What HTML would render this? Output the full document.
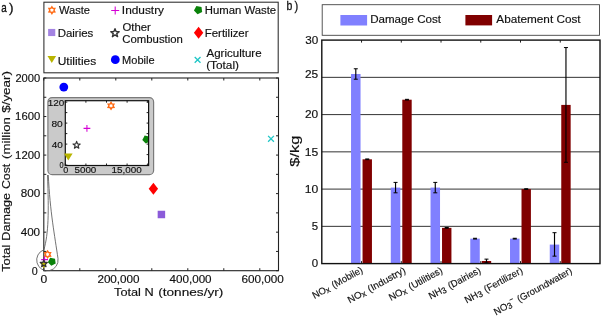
<!DOCTYPE html>
<html><head><meta charset="utf-8"><style>
html,body{margin:0;padding:0;background:#fff;width:602px;height:317px;overflow:hidden}
svg{display:block;will-change:transform}
text{font-family:"Liberation Sans", sans-serif;stroke:#111;stroke-width:0.15px}
</style></head><body>
<svg width="602" height="317" viewBox="0 0 602 317">
<rect width="602" height="317" fill="#fff"/>
<text x="1.25" y="12.00" font-size="13" fill="#111" style="stroke-width:0.35px" textLength="5.47" lengthAdjust="spacingAndGlyphs">a</text>
<text x="9.12" y="12.00" font-size="12.5" fill="#111" style="stroke-width:0.3px" textLength="4.51" lengthAdjust="spacingAndGlyphs">)</text>
<rect x="43.90" y="2.20" width="234.30" height="70.60" fill="#fff" stroke="#2a2a2a" stroke-width="1.05"/>
<path d="M51.90,6.80 L52.92,8.42 L54.84,8.50 L53.95,10.20 L54.84,11.90 L52.92,11.98 L51.90,13.60 L50.88,11.98 L48.96,11.90 L49.85,10.20 L48.96,8.50 L50.88,8.42 Z" fill="none" stroke="#ff6a13" stroke-width="1.4" stroke-linejoin="miter"/>
<rect x="48.13" y="28.93" width="7.14" height="7.14" fill="#a383e2" stroke="none" stroke-width="1"/>
<path d="M47.50,56.10 L56.10,56.10 L51.80,63.10 Z" fill="#b8b400" stroke="none" stroke-width="1"/>
<path d="M111.20,10.50 H119.20 M115.20,6.50 V14.50" fill="none" stroke="#d400d4" stroke-width="1.05"/>
<path d="M115.00,28.70 L116.09,31.60 L119.18,31.74 L116.76,33.67 L117.59,36.66 L115.00,34.95 L112.41,36.66 L113.24,33.67 L110.82,31.74 L113.91,31.60 Z" fill="none" stroke="#333333" stroke-width="1.4" stroke-linejoin="round"/>
<circle cx="115.30" cy="59.70" r="4.40" fill="#0000ff"/>
<path d="M197.54,14.33 L193.94,10.61 L196.37,6.05 L201.47,6.94 L202.18,12.07 Z" fill="#0a820a" stroke="none" stroke-width="1"/>
<path d="M198.60,26.70 L203.30,32.70 L198.60,38.70 L193.90,32.70 Z" fill="#ff0000" stroke="none" stroke-width="1"/>
<path d="M194.70,57.00 L200.50,62.80 M194.70,62.80 L200.50,57.00" fill="none" stroke="#1fc6c6" stroke-width="1.3"/>
<text x="59.00" y="14.00" font-size="10" fill="#111" textLength="31.04" lengthAdjust="spacingAndGlyphs">Waste</text>
<text x="57.70" y="37.30" font-size="10" fill="#111" textLength="35.65" lengthAdjust="spacingAndGlyphs">Dairies</text>
<text x="57.70" y="64.50" font-size="10" fill="#111" textLength="38.55" lengthAdjust="spacingAndGlyphs">Utilities</text>
<text x="121.85" y="13.70" font-size="10" fill="#111" textLength="42.20" lengthAdjust="spacingAndGlyphs">Industry</text>
<text x="122.51" y="31.00" font-size="10" fill="#111" textLength="28.39" lengthAdjust="spacingAndGlyphs">Other</text>
<text x="122.35" y="43.10" font-size="10" fill="#111" textLength="60.55" lengthAdjust="spacingAndGlyphs">Combustion</text>
<text x="122.10" y="64.00" font-size="10" fill="#111" textLength="32.50" lengthAdjust="spacingAndGlyphs">Mobile</text>
<text x="204.75" y="14.00" font-size="10" fill="#111" textLength="71.40" lengthAdjust="spacingAndGlyphs">Human Waste</text>
<text x="204.76" y="37.40" font-size="10" fill="#111" textLength="43.79" lengthAdjust="spacingAndGlyphs">Fertilizer</text>
<text x="206.55" y="57.00" font-size="10" fill="#111" textLength="55.00" lengthAdjust="spacingAndGlyphs">Agriculture</text>
<text x="206.15" y="69.10" font-size="10" fill="#111" textLength="32.86" lengthAdjust="spacingAndGlyphs">(Total)</text>
<line x1="43.80" y1="270.70" x2="46.30" y2="270.70" stroke="#222" stroke-width="1"/>
<line x1="278.50" y1="270.70" x2="276.00" y2="270.70" stroke="#222" stroke-width="1"/>
<line x1="43.80" y1="251.43" x2="46.30" y2="251.43" stroke="#222" stroke-width="1"/>
<line x1="278.50" y1="251.43" x2="276.00" y2="251.43" stroke="#222" stroke-width="1"/>
<line x1="43.80" y1="232.16" x2="46.30" y2="232.16" stroke="#222" stroke-width="1"/>
<line x1="278.50" y1="232.16" x2="276.00" y2="232.16" stroke="#222" stroke-width="1"/>
<line x1="43.80" y1="212.89" x2="46.30" y2="212.89" stroke="#222" stroke-width="1"/>
<line x1="278.50" y1="212.89" x2="276.00" y2="212.89" stroke="#222" stroke-width="1"/>
<line x1="43.80" y1="193.62" x2="46.30" y2="193.62" stroke="#222" stroke-width="1"/>
<line x1="278.50" y1="193.62" x2="276.00" y2="193.62" stroke="#222" stroke-width="1"/>
<line x1="43.80" y1="174.35" x2="46.30" y2="174.35" stroke="#222" stroke-width="1"/>
<line x1="278.50" y1="174.35" x2="276.00" y2="174.35" stroke="#222" stroke-width="1"/>
<line x1="43.80" y1="155.08" x2="46.30" y2="155.08" stroke="#222" stroke-width="1"/>
<line x1="278.50" y1="155.08" x2="276.00" y2="155.08" stroke="#222" stroke-width="1"/>
<line x1="43.80" y1="135.81" x2="46.30" y2="135.81" stroke="#222" stroke-width="1"/>
<line x1="278.50" y1="135.81" x2="276.00" y2="135.81" stroke="#222" stroke-width="1"/>
<line x1="43.80" y1="116.54" x2="46.30" y2="116.54" stroke="#222" stroke-width="1"/>
<line x1="278.50" y1="116.54" x2="276.00" y2="116.54" stroke="#222" stroke-width="1"/>
<line x1="43.80" y1="97.27" x2="46.30" y2="97.27" stroke="#222" stroke-width="1"/>
<line x1="278.50" y1="97.27" x2="276.00" y2="97.27" stroke="#222" stroke-width="1"/>
<line x1="43.80" y1="78.00" x2="46.30" y2="78.00" stroke="#222" stroke-width="1"/>
<line x1="278.50" y1="78.00" x2="276.00" y2="78.00" stroke="#222" stroke-width="1"/>
<line x1="43.80" y1="270.70" x2="43.80" y2="268.20" stroke="#222" stroke-width="1"/>
<line x1="43.80" y1="78.00" x2="43.80" y2="80.50" stroke="#222" stroke-width="1"/>
<line x1="79.80" y1="270.70" x2="79.80" y2="268.20" stroke="#222" stroke-width="1"/>
<line x1="79.80" y1="78.00" x2="79.80" y2="80.50" stroke="#222" stroke-width="1"/>
<line x1="115.80" y1="270.70" x2="115.80" y2="268.20" stroke="#222" stroke-width="1"/>
<line x1="115.80" y1="78.00" x2="115.80" y2="80.50" stroke="#222" stroke-width="1"/>
<line x1="151.80" y1="270.70" x2="151.80" y2="268.20" stroke="#222" stroke-width="1"/>
<line x1="151.80" y1="78.00" x2="151.80" y2="80.50" stroke="#222" stroke-width="1"/>
<line x1="187.80" y1="270.70" x2="187.80" y2="268.20" stroke="#222" stroke-width="1"/>
<line x1="187.80" y1="78.00" x2="187.80" y2="80.50" stroke="#222" stroke-width="1"/>
<line x1="223.80" y1="270.70" x2="223.80" y2="268.20" stroke="#222" stroke-width="1"/>
<line x1="223.80" y1="78.00" x2="223.80" y2="80.50" stroke="#222" stroke-width="1"/>
<line x1="259.80" y1="270.70" x2="259.80" y2="268.20" stroke="#222" stroke-width="1"/>
<line x1="259.80" y1="78.00" x2="259.80" y2="80.50" stroke="#222" stroke-width="1"/>
<rect x="43.80" y="78.00" width="234.70" height="192.70" fill="none" stroke="#222" stroke-width="1.1"/>
<text x="15.40" y="81.60" font-size="10" fill="#111" textLength="24.70" lengthAdjust="spacingAndGlyphs">2000</text>
<text x="15.10" y="120.14" font-size="10" fill="#111" textLength="25.15" lengthAdjust="spacingAndGlyphs">1600</text>
<text x="15.10" y="158.68" font-size="10" fill="#111" textLength="25.15" lengthAdjust="spacingAndGlyphs">1200</text>
<text x="20.81" y="197.22" font-size="10" fill="#111" textLength="19.44" lengthAdjust="spacingAndGlyphs">800</text>
<text x="20.66" y="235.76" font-size="10" fill="#111" textLength="19.44" lengthAdjust="spacingAndGlyphs">400</text>
<text x="31.88" y="274.50" font-size="10" fill="#111" textLength="5.96" lengthAdjust="spacingAndGlyphs">0</text>
<text x="40.42" y="283.20" font-size="10" fill="#111" textLength="6.72" lengthAdjust="spacingAndGlyphs">0</text>
<text x="97.40" y="283.00" font-size="10" fill="#111" textLength="42.20" lengthAdjust="spacingAndGlyphs">200,000</text>
<text x="169.50" y="283.00" font-size="10" fill="#111" textLength="42.10" lengthAdjust="spacingAndGlyphs">400,000</text>
<text x="241.40" y="283.00" font-size="10" fill="#111" textLength="42.39" lengthAdjust="spacingAndGlyphs">600,000</text>
<text x="114.05" y="295.80" font-size="11.8" fill="#111" textLength="39.65" lengthAdjust="spacingAndGlyphs">Total N</text>
<text x="158.20" y="295.80" font-size="11.8" fill="#111" textLength="65.16" lengthAdjust="spacingAndGlyphs">(tonnes/yr)</text>
<text x="0" y="0" font-size="11" fill="#111" textLength="27.15" lengthAdjust="spacingAndGlyphs" transform="translate(9.80,271.85) rotate(-90)">Total</text>
<text x="0" y="0" font-size="11" fill="#111" textLength="47.90" lengthAdjust="spacingAndGlyphs" transform="translate(9.80,240.75) rotate(-90)">Damage</text>
<text x="0" y="0" font-size="11" fill="#111" textLength="25.29" lengthAdjust="spacingAndGlyphs" transform="translate(9.80,189.09) rotate(-90)">Cost</text>
<text x="0" y="0" font-size="11" fill="#111" textLength="41.76" lengthAdjust="spacingAndGlyphs" transform="translate(9.80,158.90) rotate(-90)">(million</text>
<text x="0" y="0" font-size="11" fill="#111" textLength="41.75" lengthAdjust="spacingAndGlyphs" transform="translate(9.80,112.80) rotate(-90)">$/year)</text>
<circle cx="63.80" cy="87.10" r="4.40" fill="#0000ff"/>
<path d="M153.40,182.70 L158.10,188.70 L153.40,194.70 L148.70,188.70 Z" fill="#ff0000" stroke="none" stroke-width="1"/>
<rect x="157.66" y="210.75" width="7.49" height="7.49" fill="#8b5bd9" stroke="none" stroke-width="1"/>
<path d="M268.10,135.90 L273.90,141.70 M268.10,141.70 L273.90,135.90" fill="none" stroke="#1fc6c6" stroke-width="1.3"/>
<path d="M47.5,175 C48.9,213 48.6,233 43.9,249.8 A10.7,10.8 0 1 0 58.0,258.6 C54.8,236 50.0,212 48.3,175" fill="none" stroke="#5a5a5a" stroke-width="0.85"/>
<path d="M40.14,262.62 L47.45,262.62 L43.80,268.58 Z" fill="#b8b400" stroke="none" stroke-width="1"/>
<path d="M47.60,251.00 L48.62,252.62 L50.54,252.70 L49.65,254.40 L50.54,256.10 L48.62,256.18 L47.60,257.80 L46.58,256.18 L44.66,256.10 L45.55,254.40 L44.66,252.70 L46.58,252.62 Z" fill="none" stroke="#ff6a13" stroke-width="1.4" stroke-linejoin="miter"/>
<path d="M41.20,259.60 H48.00 M44.60,256.20 V263.00" fill="none" stroke="#d400d4" stroke-width="1.05"/>
<path d="M51.27,265.72 L47.86,262.18 L50.17,257.84 L55.01,258.70 L55.69,263.56 Z" fill="#0a820a" stroke="none" stroke-width="1"/>
<path d="M43.80,259.86 L44.72,262.33 L47.36,262.44 L45.30,264.09 L46.00,266.63 L43.80,265.17 L41.60,266.63 L42.30,264.09 L40.24,262.44 L42.88,262.33 Z" fill="none" stroke="#333333" stroke-width="1.19" stroke-linejoin="round"/>
<rect x="47.90" y="97.70" width="105.70" height="76.90" fill="#cacaca" stroke="#7a7a7a" stroke-width="1.2" rx="4.2"/>
<rect x="65.30" y="100.70" width="83.30" height="64.80" fill="#fff" stroke="none" stroke-width="1"/>
<clipPath id="ic"><rect x="65.2" y="100.7" width="83.4" height="64.8"/></clipPath>
<path d="M111.03,102.37 L112.06,104.00 L113.98,104.07 L113.08,105.77 L113.98,107.47 L112.06,107.55 L111.03,109.17 L110.01,107.55 L108.09,107.47 L108.98,105.77 L108.09,104.07 L110.01,104.00 Z" fill="none" stroke="#ff6a13" stroke-width="1.4" clip-path="url(#ic)" stroke-linejoin="miter"/>
<path d="M83.53,128.35 H90.33 M86.93,124.95 V131.75" fill="none" stroke="#d400d4" stroke-width="1.05" clip-path="url(#ic)"/>
<path d="M76.63,141.41 L77.55,143.88 L80.19,143.99 L78.13,145.64 L78.83,148.18 L76.63,146.72 L74.43,148.18 L75.13,145.64 L73.07,143.99 L75.71,143.88 Z" fill="none" stroke="#333333" stroke-width="1.19" clip-path="url(#ic)" stroke-linejoin="round"/>
<path d="M145.74,143.49 L142.32,139.96 L144.63,135.62 L149.47,136.47 L150.15,141.34 Z" fill="#0a820a" stroke="none" stroke-width="1" clip-path="url(#ic)"/>
<line x1="65.30" y1="165.10" x2="67.30" y2="165.10" stroke="#222" stroke-width="1"/>
<line x1="148.60" y1="165.10" x2="146.60" y2="165.10" stroke="#222" stroke-width="1"/>
<line x1="65.30" y1="154.60" x2="67.30" y2="154.60" stroke="#222" stroke-width="1"/>
<line x1="148.60" y1="154.60" x2="146.60" y2="154.60" stroke="#222" stroke-width="1"/>
<line x1="65.30" y1="144.10" x2="67.30" y2="144.10" stroke="#222" stroke-width="1"/>
<line x1="148.60" y1="144.10" x2="146.60" y2="144.10" stroke="#222" stroke-width="1"/>
<line x1="65.30" y1="133.60" x2="67.30" y2="133.60" stroke="#222" stroke-width="1"/>
<line x1="148.60" y1="133.60" x2="146.60" y2="133.60" stroke="#222" stroke-width="1"/>
<line x1="65.30" y1="123.10" x2="67.30" y2="123.10" stroke="#222" stroke-width="1"/>
<line x1="148.60" y1="123.10" x2="146.60" y2="123.10" stroke="#222" stroke-width="1"/>
<line x1="65.30" y1="112.60" x2="67.30" y2="112.60" stroke="#222" stroke-width="1"/>
<line x1="148.60" y1="112.60" x2="146.60" y2="112.60" stroke="#222" stroke-width="1"/>
<line x1="65.30" y1="102.10" x2="67.30" y2="102.10" stroke="#222" stroke-width="1"/>
<line x1="148.60" y1="102.10" x2="146.60" y2="102.10" stroke="#222" stroke-width="1"/>
<line x1="65.30" y1="165.50" x2="65.30" y2="163.50" stroke="#222" stroke-width="1"/>
<line x1="65.30" y1="100.70" x2="65.30" y2="102.70" stroke="#222" stroke-width="1"/>
<line x1="85.90" y1="165.50" x2="85.90" y2="163.50" stroke="#222" stroke-width="1"/>
<line x1="85.90" y1="100.70" x2="85.90" y2="102.70" stroke="#222" stroke-width="1"/>
<line x1="106.50" y1="165.50" x2="106.50" y2="163.50" stroke="#222" stroke-width="1"/>
<line x1="106.50" y1="100.70" x2="106.50" y2="102.70" stroke="#222" stroke-width="1"/>
<line x1="127.10" y1="165.50" x2="127.10" y2="163.50" stroke="#222" stroke-width="1"/>
<line x1="127.10" y1="100.70" x2="127.10" y2="102.70" stroke="#222" stroke-width="1"/>
<line x1="147.70" y1="165.50" x2="147.70" y2="163.50" stroke="#222" stroke-width="1"/>
<line x1="147.70" y1="100.70" x2="147.70" y2="102.70" stroke="#222" stroke-width="1"/>
<rect x="65.30" y="100.70" width="83.30" height="64.80" fill="none" stroke="#111" stroke-width="1.2"/>
<path d="M64.00,153.50 L72.60,153.50 L68.30,160.50 Z" fill="#b8b400" stroke="none" stroke-width="1"/>
<text x="47.70" y="106.30" font-size="9.5" fill="#111" textLength="16.55" lengthAdjust="spacingAndGlyphs">120</text>
<text x="51.46" y="127.00" font-size="9.5" fill="#111" textLength="11.33" lengthAdjust="spacingAndGlyphs">80</text>
<text x="51.71" y="148.20" font-size="9.5" fill="#111" textLength="11.08" lengthAdjust="spacingAndGlyphs">40</text>
<text x="59.61" y="168.30" font-size="9.5" fill="#111" textLength="4.11" lengthAdjust="spacingAndGlyphs">0</text>
<text x="63.28" y="172.70" font-size="9.5" fill="#111" textLength="5.05" lengthAdjust="spacingAndGlyphs">0</text>
<text x="74.46" y="172.90" font-size="9.5" fill="#111" textLength="21.89" lengthAdjust="spacingAndGlyphs">5000</text>
<text x="111.56" y="172.90" font-size="9.5" fill="#111" textLength="30.29" lengthAdjust="spacingAndGlyphs">15,000</text>
<text x="286.47" y="10.40" font-size="12.5" fill="#111" style="stroke-width:0.3px" textLength="5.81" lengthAdjust="spacingAndGlyphs">b</text>
<text x="294.60" y="10.40" font-size="12.5" fill="#111" style="stroke-width:0.3px" textLength="3.71" lengthAdjust="spacingAndGlyphs">)</text>
<rect x="322.20" y="4.70" width="277.30" height="30.60" fill="#fff" stroke="#444" stroke-width="0.9"/>
<rect x="340.40" y="15.00" width="26.70" height="10.50" fill="#8080ff" stroke="none" stroke-width="1"/>
<rect x="465.40" y="15.00" width="26.70" height="10.40" fill="#800000" stroke="none" stroke-width="1"/>
<text x="370.20" y="23.00" font-size="10" fill="#111" textLength="70.75" lengthAdjust="spacingAndGlyphs">Damage Cost</text>
<text x="496.35" y="23.00" font-size="10" fill="#111" textLength="84.25" lengthAdjust="spacingAndGlyphs">Abatement Cost</text>
<line x1="321.80" y1="226.35" x2="600.00" y2="226.35" stroke="#333" stroke-width="1"/>
<line x1="321.80" y1="189.10" x2="600.00" y2="189.10" stroke="#333" stroke-width="1"/>
<line x1="321.80" y1="151.85" x2="600.00" y2="151.85" stroke="#333" stroke-width="1"/>
<line x1="321.80" y1="114.60" x2="600.00" y2="114.60" stroke="#333" stroke-width="1"/>
<line x1="321.80" y1="77.35" x2="600.00" y2="77.35" stroke="#333" stroke-width="1"/>
<rect x="351.04" y="74.00" width="9.50" height="189.60" fill="#8080ff" stroke="none" stroke-width="1"/>
<rect x="362.54" y="159.30" width="9.40" height="104.30" fill="#800000" stroke="none" stroke-width="1"/>
<line x1="355.79" y1="68.78" x2="355.79" y2="79.21" stroke="#000" stroke-width="1.15"/>
<line x1="353.79" y1="68.78" x2="357.79" y2="68.78" stroke="#000" stroke-width="1"/>
<line x1="353.79" y1="79.21" x2="357.79" y2="79.21" stroke="#000" stroke-width="1"/>
<line x1="367.24" y1="158.93" x2="367.24" y2="159.67" stroke="#000" stroke-width="1.15"/>
<line x1="365.24" y1="158.93" x2="369.24" y2="158.93" stroke="#000" stroke-width="1"/>
<line x1="365.24" y1="159.67" x2="369.24" y2="159.67" stroke="#000" stroke-width="1"/>
<line x1="361.54" y1="263.60" x2="361.54" y2="261.10" stroke="#222" stroke-width="1"/>
<line x1="361.54" y1="40.10" x2="361.54" y2="42.60" stroke="#222" stroke-width="1"/>
<rect x="390.79" y="187.61" width="9.50" height="75.99" fill="#8080ff" stroke="none" stroke-width="1"/>
<rect x="402.29" y="99.70" width="9.40" height="163.90" fill="#800000" stroke="none" stroke-width="1"/>
<line x1="395.54" y1="182.40" x2="395.54" y2="192.82" stroke="#000" stroke-width="1.15"/>
<line x1="393.54" y1="182.40" x2="397.54" y2="182.40" stroke="#000" stroke-width="1"/>
<line x1="393.54" y1="192.82" x2="397.54" y2="192.82" stroke="#000" stroke-width="1"/>
<line x1="406.99" y1="99.33" x2="406.99" y2="100.07" stroke="#000" stroke-width="1.15"/>
<line x1="404.99" y1="99.33" x2="408.99" y2="99.33" stroke="#000" stroke-width="1"/>
<line x1="404.99" y1="100.07" x2="408.99" y2="100.07" stroke="#000" stroke-width="1"/>
<line x1="401.29" y1="263.60" x2="401.29" y2="261.10" stroke="#222" stroke-width="1"/>
<line x1="401.29" y1="40.10" x2="401.29" y2="42.60" stroke="#222" stroke-width="1"/>
<rect x="430.53" y="187.61" width="9.50" height="75.99" fill="#8080ff" stroke="none" stroke-width="1"/>
<rect x="442.03" y="227.84" width="9.40" height="35.76" fill="#800000" stroke="none" stroke-width="1"/>
<line x1="435.28" y1="182.40" x2="435.28" y2="192.82" stroke="#000" stroke-width="1.15"/>
<line x1="433.28" y1="182.40" x2="437.28" y2="182.40" stroke="#000" stroke-width="1"/>
<line x1="433.28" y1="192.82" x2="437.28" y2="192.82" stroke="#000" stroke-width="1"/>
<line x1="446.73" y1="227.47" x2="446.73" y2="228.21" stroke="#000" stroke-width="1.15"/>
<line x1="444.73" y1="227.47" x2="448.73" y2="227.47" stroke="#000" stroke-width="1"/>
<line x1="444.73" y1="228.21" x2="448.73" y2="228.21" stroke="#000" stroke-width="1"/>
<line x1="441.03" y1="263.60" x2="441.03" y2="261.10" stroke="#222" stroke-width="1"/>
<line x1="441.03" y1="40.10" x2="441.03" y2="42.60" stroke="#222" stroke-width="1"/>
<rect x="470.27" y="238.64" width="9.50" height="24.96" fill="#8080ff" stroke="none" stroke-width="1"/>
<rect x="481.77" y="260.99" width="9.40" height="2.61" fill="#800000" stroke="none" stroke-width="1"/>
<line x1="475.02" y1="238.27" x2="475.02" y2="239.02" stroke="#000" stroke-width="1.15"/>
<line x1="473.02" y1="238.27" x2="477.02" y2="238.27" stroke="#000" stroke-width="1"/>
<line x1="473.02" y1="239.02" x2="477.02" y2="239.02" stroke="#000" stroke-width="1"/>
<line x1="486.47" y1="259.13" x2="486.47" y2="262.86" stroke="#000" stroke-width="1.15"/>
<line x1="484.47" y1="259.13" x2="488.47" y2="259.13" stroke="#000" stroke-width="1"/>
<line x1="484.47" y1="262.86" x2="488.47" y2="262.86" stroke="#000" stroke-width="1"/>
<line x1="480.77" y1="263.60" x2="480.77" y2="261.10" stroke="#222" stroke-width="1"/>
<line x1="480.77" y1="40.10" x2="480.77" y2="42.60" stroke="#222" stroke-width="1"/>
<rect x="510.01" y="238.64" width="9.50" height="24.96" fill="#8080ff" stroke="none" stroke-width="1"/>
<rect x="521.51" y="189.10" width="9.40" height="74.50" fill="#800000" stroke="none" stroke-width="1"/>
<line x1="514.76" y1="238.27" x2="514.76" y2="239.02" stroke="#000" stroke-width="1.15"/>
<line x1="512.76" y1="238.27" x2="516.76" y2="238.27" stroke="#000" stroke-width="1"/>
<line x1="512.76" y1="239.02" x2="516.76" y2="239.02" stroke="#000" stroke-width="1"/>
<line x1="526.21" y1="188.73" x2="526.21" y2="189.47" stroke="#000" stroke-width="1.15"/>
<line x1="524.21" y1="188.73" x2="528.21" y2="188.73" stroke="#000" stroke-width="1"/>
<line x1="524.21" y1="189.47" x2="528.21" y2="189.47" stroke="#000" stroke-width="1"/>
<line x1="520.51" y1="263.60" x2="520.51" y2="261.10" stroke="#222" stroke-width="1"/>
<line x1="520.51" y1="40.10" x2="520.51" y2="42.60" stroke="#222" stroke-width="1"/>
<rect x="549.76" y="244.60" width="9.50" height="19.00" fill="#8080ff" stroke="none" stroke-width="1"/>
<rect x="561.26" y="104.91" width="9.40" height="158.69" fill="#800000" stroke="none" stroke-width="1"/>
<line x1="554.51" y1="232.68" x2="554.51" y2="256.15" stroke="#000" stroke-width="1.15"/>
<line x1="552.51" y1="232.68" x2="556.51" y2="232.68" stroke="#000" stroke-width="1"/>
<line x1="552.51" y1="256.15" x2="556.51" y2="256.15" stroke="#000" stroke-width="1"/>
<line x1="565.96" y1="47.55" x2="565.96" y2="162.28" stroke="#000" stroke-width="1.15"/>
<line x1="563.96" y1="47.55" x2="567.96" y2="47.55" stroke="#000" stroke-width="1"/>
<line x1="563.96" y1="162.28" x2="567.96" y2="162.28" stroke="#000" stroke-width="1"/>
<line x1="560.26" y1="263.60" x2="560.26" y2="261.10" stroke="#222" stroke-width="1"/>
<line x1="560.26" y1="40.10" x2="560.26" y2="42.60" stroke="#222" stroke-width="1"/>
<rect x="321.80" y="40.10" width="278.20" height="223.50" fill="none" stroke="#111" stroke-width="1.4"/>
<text x="311.81" y="267.30" font-size="10" fill="#111" textLength="6.37" lengthAdjust="spacingAndGlyphs">0</text>
<text x="311.82" y="230.05" font-size="10" fill="#111" textLength="6.35" lengthAdjust="spacingAndGlyphs">5</text>
<text x="304.75" y="192.80" font-size="10" fill="#111" textLength="13.50" lengthAdjust="spacingAndGlyphs">10</text>
<text x="304.75" y="155.55" font-size="10" fill="#111" textLength="13.50" lengthAdjust="spacingAndGlyphs">15</text>
<text x="305.01" y="118.30" font-size="10" fill="#111" textLength="13.24" lengthAdjust="spacingAndGlyphs">20</text>
<text x="305.01" y="77.75" font-size="10" fill="#111" textLength="13.24" lengthAdjust="spacingAndGlyphs">25</text>
<text x="305.26" y="43.80" font-size="10" fill="#111" textLength="12.98" lengthAdjust="spacingAndGlyphs">30</text>
<text x="0" y="0" font-size="12.6" fill="#111" textLength="31.40" lengthAdjust="spacingAndGlyphs" transform="translate(298.80,166.80) rotate(-90)">$/kg</text>
<text x="0" y="0" font-size="9.6" fill="#111" text-anchor="end" word-spacing="1.0" textLength="56.16" lengthAdjust="spacingAndGlyphs" transform="translate(363.62,271.90) rotate(-28.98)">NO<tspan font-size="8.6" dy="1.3">x</tspan><tspan dy="-1.3"> (Mobile)</tspan></text>
<text x="0" y="0" font-size="9.6" fill="#111" text-anchor="end" word-spacing="1.0" textLength="64.53" lengthAdjust="spacingAndGlyphs" transform="translate(406.25,272.40) rotate(-28.80)">NO<tspan font-size="8.6" dy="1.3">x</tspan><tspan dy="-1.3"> (Industry)</tspan></text>
<text x="0" y="0" font-size="9.6" fill="#111" text-anchor="end" word-spacing="1.0" textLength="59.67" lengthAdjust="spacingAndGlyphs" transform="translate(443.34,272.40) rotate(-28.69)">NO<tspan font-size="8.6" dy="1.3">x</tspan><tspan dy="-1.3"> (Utilities)</tspan></text>
<text x="0" y="0" font-size="9.6" fill="#111" text-anchor="end" word-spacing="1.0" textLength="57.49" lengthAdjust="spacingAndGlyphs" transform="translate(481.43,272.40) rotate(-28.18)">NH<tspan font-size="8.6" dy="1.2">3</tspan><tspan dy="-1.2"> (Dairies)</tspan></text>
<text x="0" y="0" font-size="9.6" fill="#111" text-anchor="end" word-spacing="1.0" textLength="64.60" lengthAdjust="spacingAndGlyphs" transform="translate(523.48,272.40) rotate(-28.70)">NH<tspan font-size="8.6" dy="1.2">3</tspan><tspan dy="-1.2"> (Fertilizer)</tspan></text>
<text x="0" y="0" font-size="9.6" fill="#111" text-anchor="end" word-spacing="1.0" textLength="87.87" lengthAdjust="spacingAndGlyphs" transform="translate(572.85,272.80) rotate(-28.99)">NO<tspan font-size="8.6" dy="1.2">3</tspan><tspan font-size="7" dy="-5.5">&#8722;</tspan><tspan dy="4.3"> (Groundwater)</tspan></text>
</svg>
</body></html>
